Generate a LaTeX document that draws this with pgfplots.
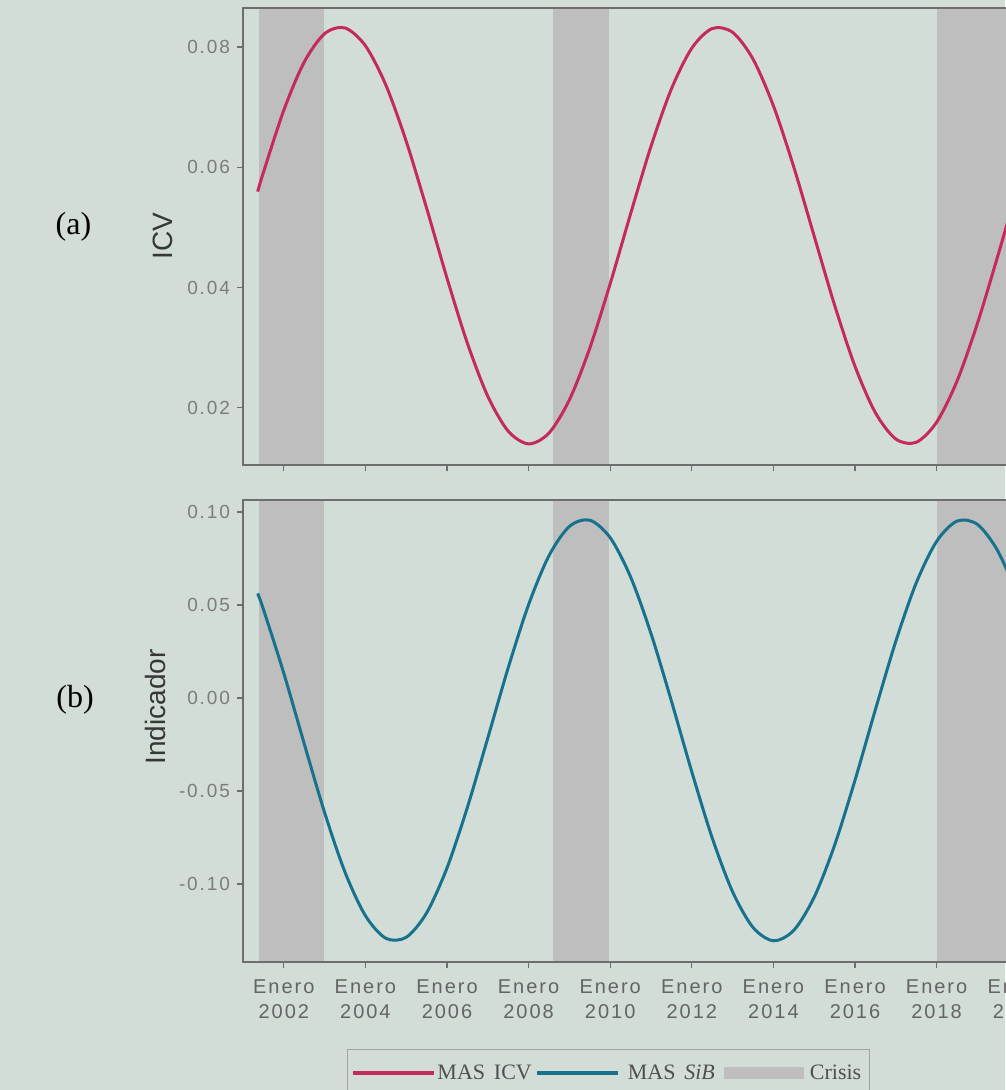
\documentclass[border=0pt]{standalone}
\usepackage{pgfplots}
\pgfplotsset{compat=1.18}
\usepackage{fontspec}
\setmainfont{Liberation Serif}
\newfontfamily\sansf{Liberation Sans}
\newfontfamily\tickf[LetterSpace=10]{Liberation Sans}
\definecolor{bg}{RGB}{210,221,215}
\definecolor{crisis}{RGB}{190,190,190}
\definecolor{axgray}{RGB}{110,110,110}
\definecolor{ticktext}{RGB}{125,125,125}
\definecolor{xtext}{RGB}{100,100,100}
\definecolor{labtext}{RGB}{55,55,55}
\definecolor{icv}{RGB}{196,42,92}
\definecolor{sib}{RGB}{24,114,142}
\definecolor{legborder}{RGB}{160,165,162}
\definecolor{legtext}{RGB}{80,80,80}
\pgfplotsset{
  common/.style={
    scale only axis, width=397.8pt,
    xmin=2001, xmax=2020.5,
    axis on top,
    axis line style={draw=axgray, line width=0.6pt},
    major tick style={draw=axgray, line width=0.6pt},
    major tick length=3pt, tick align=outside,
    xtick pos=left, ytick pos=left,
    xtick={2002,2004,2006,2008,2010,2012,2014,2016,2018,2020},
    yticklabel style={font=\tickf\fontsize{9.5}{11}\selectfont, text=ticktext},
    ylabel style={font=\sansf\fontsize{14}{16}\selectfont, text=labtext},
  }
}
\begin{document}
\begin{tikzpicture}
\fill[bg] (0pt,0pt) rectangle (502.5pt,-545pt);
% ---------------- panel (a)
\begin{axis}[common,
  at={(121.5pt,-4pt)}, anchor=north west, height=228.5pt,
  ymin=0.0105, ymax=0.0865,
  ytick={0.02,0.04,0.06,0.08},
  yticklabels={0.02,0.04,0.06,0.08},
  xticklabels={},
  ylabel={ICV},
  ylabel style={at={(axis description cs:-0.0892,0.5)}, anchor=base},
]
\addplot[fill=crisis, draw=none, forget plot] coordinates {(2001.38,-1) (2001.38,1) (2002.98,1) (2002.98,-1)} -- cycle;
\addplot[fill=crisis, draw=none, forget plot] coordinates {(2008.59,-1) (2008.59,1) (2009.97,1) (2009.97,-1)} -- cycle;
\addplot[fill=crisis, draw=none, forget plot] coordinates {(2018.0,-1) (2018.0,1) (2021.5,1) (2021.5,-1)} -- cycle;
\addplot[icv, line width=1.5pt, smooth] coordinates {
(2001.36,0.05596) (2001.5,0.05914) (2002.0,0.06949) (2002.5,0.07749) (2003.0,0.08222)
(2003.5,0.08317) (2004.0,0.08021) (2004.5,0.07369) (2005.0,0.06433) (2005.5,0.05320)
(2006.0,0.04156) (2006.5,0.03073) (2007.0,0.02191) (2007.5,0.01612) (2008.0,0.01400)
(2008.5,0.01581) (2009.0,0.02133) (2009.5,0.02993) (2010.0,0.04065) (2010.5,0.05227)
(2011.0,0.06349) (2011.5,0.07303) (2012.0,0.07981) (2012.5,0.08307) (2013.0,0.08244)
(2013.5,0.07799) (2014.0,0.07022) (2014.5,0.06002) (2015.0,0.04853) (2015.5,0.03706)
(2016.0,0.02689) (2016.5,0.01918) (2017.0,0.01481) (2017.5,0.01426) (2018.0,0.01760)
(2018.5,0.02444) (2019.0,0.03403) (2019.5,0.04526) (2020.0,0.05689) (2020.5,0.06757)
};
\end{axis}
% ---------------- panel (b)
\begin{axis}[common,
  at={(121.5pt,-250pt)}, anchor=north west, height=231pt,
  ymin=-0.142, ymax=0.1065,
  ytick={-0.10,-0.05,0,0.05,0.10},
  yticklabels={-0.10,-0.05,0.00,0.05,0.10},
  xticklabels={{Enero\\2002},{Enero\\2004},{Enero\\2006},{Enero\\2008},{Enero\\2010},{Enero\\2012},{Enero\\2014},{Enero\\2016},{Enero\\2018},{Enero\\2020}},
  xticklabel style={align=center, font=\tickf\fontsize{10}{12.5}\selectfont, text=xtext, yshift=-2.5pt},
  ylabel={Indicador},
  ylabel style={at={(axis description cs:-0.098,0.552)}, anchor=base},
  legend columns=3,
  legend image code/.code={\draw[#1, line width=2pt] (0pt,0pt) -- (40.5pt,0pt);},
  legend style={at={(axis description cs:0.1307,-0.1883)}, anchor=north west,
    draw=legborder, line width=0.5pt, fill=none, text=legtext,
    font=\fontsize{11}{13}\selectfont,
    inner xsep=2pt, inner ysep=7pt, nodes={inner sep=0.5pt},
    /tikz/every even column/.style={column sep=0pt},
    /tikz/every odd column/.style={column sep=4pt}},
]
\addplot[fill=crisis, draw=none, forget plot] coordinates {(2001.38,-1) (2001.38,1) (2002.98,1) (2002.98,-1)} -- cycle;
\addplot[fill=crisis, draw=none, forget plot] coordinates {(2008.59,-1) (2008.59,1) (2009.97,1) (2009.97,-1)} -- cycle;
\addplot[fill=crisis, draw=none, forget plot] coordinates {(2018.0,-1) (2018.0,1) (2021.5,1) (2021.5,-1)} -- cycle;
\addlegendimage{icv}
\addlegendentry{\hspace{-4pt}MAS\hspace{0.4em}ICV\kern1pt}
\addplot[sib, line width=1.5pt, smooth] coordinates {
(2001.36,0.05621) (2001.5,0.04773) (2002.0,0.01332) (2002.5,-0.02457) (2003.0,-0.06162)
(2003.5,-0.09370) (2004.0,-0.11709) (2004.5,-0.12924) (2005.0,-0.12872) (2005.5,-0.11561)
(2006.0,-0.09140) (2006.5,-0.05879) (2007.0,-0.02151) (2007.5,0.01626) (2008.0,0.05023)
(2008.5,0.07657) (2009.0,0.09228) (2009.5,0.09563) (2010.0,0.08620) (2010.5,0.06510)
(2011.0,0.03465) (2011.5,-0.00165) (2012.0,-0.03973) (2012.5,-0.07526) (2013.0,-0.10426)
(2013.5,-0.12341) (2014.0,-0.13058) (2014.5,-0.12494) (2015.0,-0.10711) (2015.5,-0.07917)
(2016.0,-0.04421) (2016.5,-0.00622) (2017.0,0.03052) (2017.5,0.06186) (2018.0,0.08425)
(2018.5,0.09516) (2019.0,0.09336) (2019.5,0.07905) (2020.0,0.05385) (2020.5,0.02061)
};
\addlegendentry{\hspace{-0.5pt}MAS\hspace{0.4em}\textit{SiB}\kern4pt}
\addlegendimage{legend image code/.code={\fill[crisis] (0pt,-2.75pt) rectangle (39.5pt,2.75pt);}}
\addlegendentry{\hspace{-1.5pt}Crisis\kern1.5pt}
\end{axis}
\node[font=\fontsize{16}{18}\selectfont, text=black] at (36.75pt,-113.25pt) {(a)};
\node[font=\fontsize{16}{18}\selectfont, text=black] at (37.5pt,-350pt) {(b)};
\pgfresetboundingbox
\useasboundingbox (0pt,0pt) rectangle (502.5pt,-545pt);
\end{tikzpicture}
\end{document}
